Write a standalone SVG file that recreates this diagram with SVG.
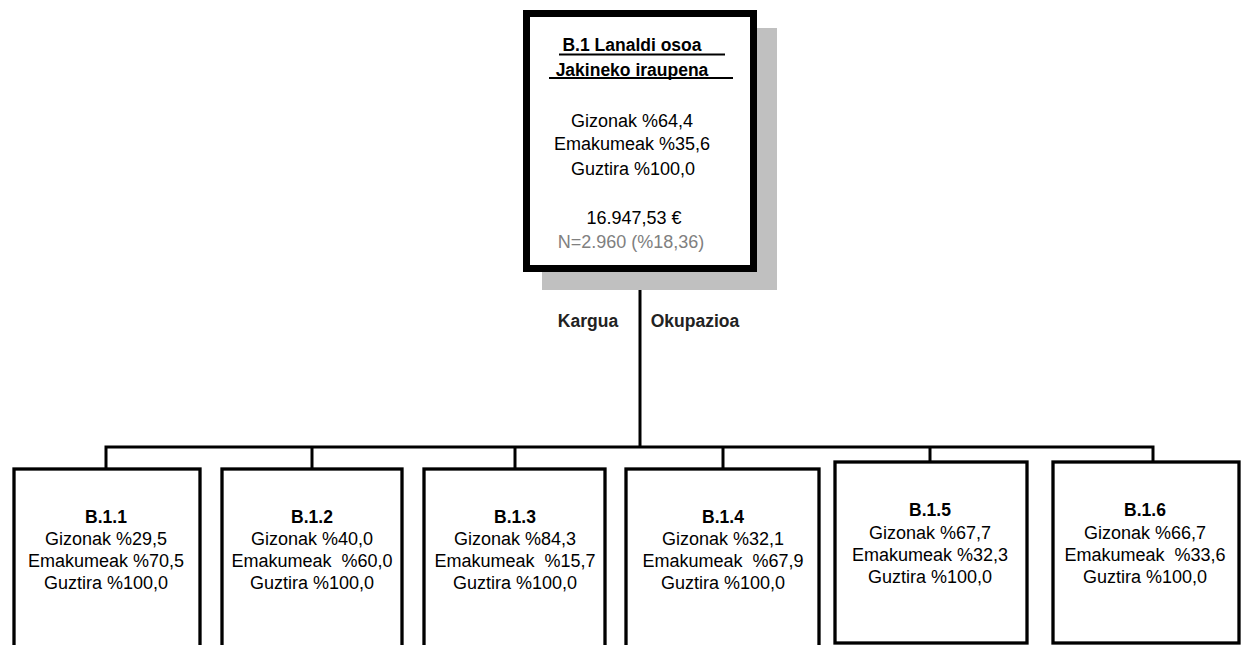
<svg xmlns="http://www.w3.org/2000/svg" width="1241" height="645" viewBox="0 0 1241 645">
<style>
text{font-family:"Liberation Sans",Arial,sans-serif;font-size:18px;fill:#000;text-anchor:middle;white-space:pre}
.b{font-weight:bold;font-size:17.5px}
.g{fill:#808080}
.lbl{font-weight:bold;fill:#222;font-size:17.5px}
.box{fill:#fff;stroke:#000;stroke-width:3.3}
.con{fill:none;stroke:#000;stroke-width:3}
</style>
<rect x="0" y="0" width="1241" height="645" fill="#fff"/>
<g id="connectors">
<line class="con" x1="640" y1="272" x2="640" y2="447"/>
<polyline class="con" points="106,469 106,447 1153,447 1153,462"/>
<line class="con" x1="312" y1="447" x2="312" y2="469"/>
<line class="con" x1="515" y1="447" x2="515" y2="469"/>
<line class="con" x1="723" y1="447" x2="723" y2="469"/>
<line class="con" x1="930" y1="447" x2="930" y2="462"/>
</g>
<g id="labels">
<text class="lbl" x="588" y="327">Kargua</text>
<text class="lbl" x="695" y="327">Okupazioa</text>
</g>
<g id="root">
<rect x="542" y="28" width="235" height="262" fill="#c0c0c0"/>
<rect x="526.5" y="13.5" width="227" height="255" fill="#fff" stroke="#000" stroke-width="7"/>
<text class="b" x="632" y="51">B.1 Lanaldi osoa</text>
<line x1="559" y1="54.5" x2="725" y2="54.5" stroke="#000" stroke-width="2"/>
<text class="b" x="632" y="76">Jakineko iraupena</text>
<line x1="549" y1="78" x2="733" y2="78" stroke="#000" stroke-width="2"/>
<text x="632" y="127">Gizonak %64,4</text>
<text x="632" y="150">Emakumeak %35,6</text>
<text x="633" y="175">Guztira %100,0</text>
<text x="634" y="224">16.947,53 €</text>
<text class="g" x="631" y="248">N=2.960 (%18,36)</text>
</g>
<g id="n111">
<rect class="box" x="14" y="469" width="186" height="200"/>
<text class="b" x="106" y="523">B.1.1</text>
<text x="106" y="545">Gizonak %29,5</text>
<text x="106" y="567">Emakumeak %70,5</text>
<text x="106" y="589">Guztira %100,0</text>
</g>
<g id="n112">
<rect class="box" x="222" y="469" width="180" height="200"/>
<text class="b" x="312" y="523">B.1.2</text>
<text x="312" y="545">Gizonak %40,0</text>
<text x="312" y="567">Emakumeak  %60,0</text>
<text x="312" y="589">Guztira %100,0</text>
</g>
<g id="n113">
<rect class="box" x="424" y="469" width="181" height="200"/>
<text class="b" x="515" y="523">B.1.3</text>
<text x="515" y="545">Gizonak %84,3</text>
<text x="515" y="567">Emakumeak  %15,7</text>
<text x="515" y="589">Guztira %100,0</text>
</g>
<g id="n114">
<rect class="box" x="626" y="469" width="193" height="200"/>
<text class="b" x="723" y="523">B.1.4</text>
<text x="723" y="545">Gizonak %32,1</text>
<text x="723" y="567">Emakumeak  %67,9</text>
<text x="723" y="589">Guztira %100,0</text>
</g>
<g id="n115">
<rect class="box" x="835" y="462" width="192" height="181"/>
<text class="b" x="930" y="516">B.1.5</text>
<text x="930" y="539">Gizonak %67,7</text>
<text x="930" y="561">Emakumeak %32,3</text>
<text x="930" y="583">Guztira %100,0</text>
</g>
<g id="n116">
<rect class="box" x="1053" y="462" width="186" height="181"/>
<text class="b" x="1145" y="516">B.1.6</text>
<text x="1145" y="539">Gizonak %66,7</text>
<text x="1145" y="561">Emakumeak  %33,6</text>
<text x="1145" y="583">Guztira %100,0</text>
</g>
</svg>
